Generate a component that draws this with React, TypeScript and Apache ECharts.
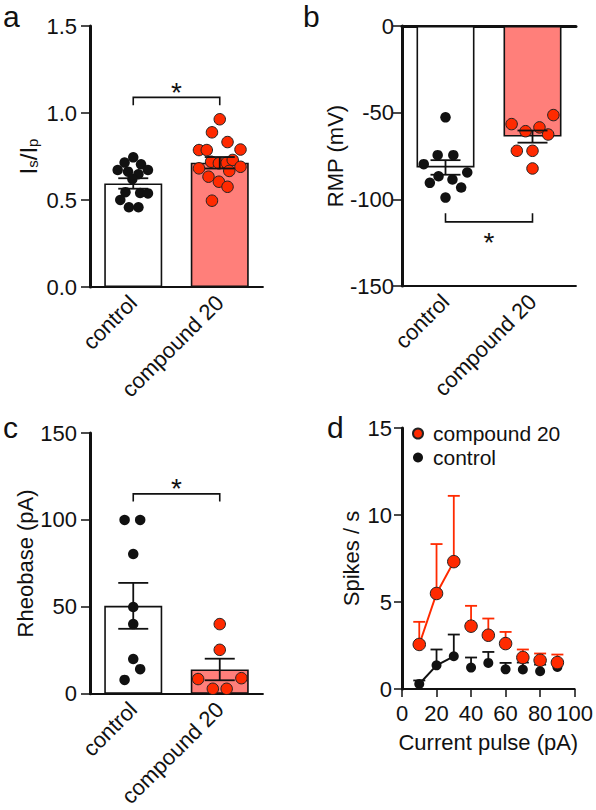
import React, { useEffect, useRef } from 'react';
import * as echarts from 'echarts';

const FONT = '"Liberation Sans", Arial, Helvetica, sans-serif';
const INK = '#111111';
const RED = '#ff2a00';
const SALMON = '#ff7f7a';

const categories = ['control', 'compound 20'];

// panel a: Is/Ip
const ratioMean = [0.595, 0.714];
const ratioSem = [0.03, 0.033];
const ratioControl = [0.745, 0.715, 0.705, 0.672, 0.672, 0.663, 0.648, 0.62, 0.545, 0.54, 0.538, 0.5, 0.458, 0.458];
const ratioControlJitter = [0, -0.1, 0.09, -0.18, 0.17, -0.06, 0.06, -0.01, -0.09, 0.08, 0.17, -0.15, -0.05, 0.06];
const ratioCompound = [0.964, 0.889, 0.833, 0.787, 0.787, 0.79, 0.72, 0.711, 0.714, 0.73, 0.682, 0.691, 0.667, 0.634, 0.605, 0.576, 0.496];
const ratioCompoundJitter = [0, -0.09, 0.09, -0.24, -0.15, 0.24, -0.1, -0.01, 0.08, 0.15, -0.24, 0.24, 0.11, -0.13, -0.01, 0.09, -0.09];
const ratioBracket = [0, 1, 1.09, 1.045, 1.16];

// panel b: RMP
const rmpMean = [-81.6, -63.8];
const rmpSem = [4.2, 3.5];
const rmpControl = [-52.7, -74.5, -74.5, -79.7, -86.7, -88.6, -84.5, -90.5, -93.2, -99];
const rmpControlJitter = [0, -0.09, 0.09, -0.25, -0.08, 0.08, 0.25, -0.18, 0.18, 0];
const rmpCompound = [-51.4, -56.6, -60.7, -58.5, -62.6, -72, -72, -82.2];
const rmpCompoundJitter = [0.24, -0.24, -0.08, 0.08, 0.18, -0.18, 0, 0];
const rmpBracket = [0, 1, -113, -108, -120.7];

// panel c: Rheobase
const rheoMean = [50.6, 14];
const rheoSem = [13.2, 6.2];
const rheoControl = [100, 100, 80.4, 49.9, 40.1, 20, 14.2, 8];
const rheoControlJitter = [-0.1, 0.08, 0, 0, 0, 0, 0.08, -0.1];
const rheoCompound = [40.1, 25.3, 8.5, 9, 2.9, 2.9];
const rheoCompoundJitter = [0, 0, -0.25, 0.25, -0.08, 0.08];
const rheoBracket = [0, 1, 115, 110.6, 122];

// panel d: spikes vs current
const currentSteps = [10, 20, 30, 40, 50, 60, 70, 80, 90];
const spikesCompound = [2.56, 5.49, 7.32, 3.61, 3.09, 2.61, 1.81, 1.65, 1.52];
const spikesCompoundSem = [1.3, 2.84, 3.78, 1.17, 0.96, 0.67, 0.46, 0.39, 0.46];
const spikesControl = [0.29, 1.36, 1.88, 1.23, 1.5, 1.13, 1.12, 1.02, 1.27];
const spikesControlSem = [0.2, 0.91, 1.25, 0.58, 0.63, 0.37, 0.4, 0.38, 0.28];
const fitPoints = 3;

function errRender(capHalf: number, color: string, lw: number, upOnly: boolean) {
  return (params: any, api: any) => {
    const x = api.value(0);
    const m = api.value(1);
    const e = api.value(2);
    const top = api.coord([x, m + e]);
    const bot = api.coord([x, upOnly ? m : m - e]);
    const st = { stroke: color, lineWidth: lw };
    const children: any[] = [
      { type: 'line', shape: { x1: top[0], y1: top[1], x2: bot[0], y2: bot[1] }, style: st },
      { type: 'line', shape: { x1: top[0] - capHalf, y1: top[1], x2: top[0] + capHalf, y2: top[1] }, style: st },
    ];
    if (!upOnly) {
      children.push({ type: 'line', shape: { x1: bot[0] - capHalf, y1: bot[1], x2: bot[0] + capHalf, y2: bot[1] }, style: st });
    }
    return { type: 'group', children };
  };
}

function bracketRender(params: any, api: any) {
  const x0 = api.value(0);
  const x1 = api.value(1);
  const yb = api.value(2);
  const ye = api.value(3);
  const ys = api.value(4);
  const p0 = api.coord([x0, ye]);
  const p1 = api.coord([x0, yb]);
  const p2 = api.coord([x1, yb]);
  const p3 = api.coord([x1, ye]);
  const ps = api.coord([(x0 + x1) / 2, ys]);
  return {
    type: 'group',
    children: [
      { type: 'polyline', shape: { points: [p0, p1, p2, p3] }, style: { stroke: INK, lineWidth: 1.6, fill: 'none' } },
      {
        type: 'text',
        style: {
          text: '*', x: ps[0], y: ps[1] + 7, textAlign: 'center', textVerticalAlign: 'middle',
          font: `28px ${FONT}`, fill: INK,
        },
      },
    ],
  };
}

const labelStyle = { color: INK, fontFamily: FONT };

function catAxis(gridIndex: number, extra: any = {}) {
  return {
    type: 'category', gridIndex, data: categories,
    axisLine: { onZero: false, lineStyle: { color: INK, width: 1.8 } },
    axisTick: { alignWithLabel: true, length: 9, lineStyle: { color: INK, width: 1.5 } },
    axisLabel: { ...labelStyle, rotate: 45, margin: 12, fontSize: 22 },
    ...extra,
  };
}

function hiddenX(gridIndex: number) {
  return { type: 'value', gridIndex, min: -0.5, max: 1.5, show: false };
}

function valAxis(gridIndex: number, min: number, max: number, interval: number, margin: number, name: any, nameGap: number, extra: any = {}) {
  return {
    type: 'value', gridIndex, min, max, interval,
    axisLine: { show: true, onZero: false, lineStyle: { color: INK, width: 3 } },
    axisTick: { show: true, length: 9, lineStyle: { color: INK, width: 1.5 } },
    splitLine: { show: false },
    axisLabel: { ...labelStyle, fontSize: 22, margin },
    name, nameLocation: 'middle', nameRotate: 90, nameGap,
    nameTextStyle: { ...labelStyle, fontSize: 22 },
    ...extra,
  };
}

function barPanel(prefix: string, xCat: number, xVal: number, yIdx: number, mean: number[], sem: number[],
  ctrl: number[], ctrlJ: number[], comp: number[], compJ: number[], bracket: number[]) {
  return [
    {
      name: prefix + ' bars', type: 'bar', xAxisIndex: xCat, yAxisIndex: yIdx, barWidth: 58, z: 1,
      data: mean.map((v, i) => ({ value: v, itemStyle: { color: i === 0 ? '#ffffff' : SALMON } })),
      itemStyle: { borderColor: INK, borderWidth: 1.6 },
      silent: true,
    },
    {
      name: prefix + ' ctrl dots', type: 'scatter', xAxisIndex: xVal, yAxisIndex: yIdx, z: 3,
      symbolSize: 10.5, itemStyle: { color: INK, opacity: 1 },
      data: ctrl.map((v, i) => [0 + ctrlJ[i], v]), silent: true,
    },
    {
      name: prefix + ' comp dots', type: 'scatter', xAxisIndex: xVal, yAxisIndex: yIdx, z: 3,
      symbolSize: 11.5, itemStyle: { color: RED, borderColor: '#222', borderWidth: 1, opacity: 1 },
      data: comp.map((v, i) => [1 + compJ[i], v]), silent: true,
    },
    {
      name: prefix + ' err', type: 'custom', xAxisIndex: xVal, yAxisIndex: yIdx, z: 4,
      renderItem: errRender(15, INK, 1.8, false),
      data: mean.map((m, i) => [i, m, sem[i]]), silent: true,
    },
    {
      name: prefix + ' bracket', type: 'custom', xAxisIndex: xVal, yAxisIndex: yIdx, z: 5,
      renderItem: bracketRender, data: [bracket], encode: { x: 0, y: 2 }, silent: true,
    },
  ];
}

export default function App() {
  const ref = useRef<HTMLDivElement>(null);
  useEffect(() => {
    if (!ref.current) return;
    const chart = echarts.init(ref.current, null, { renderer: 'svg' });
    const option: any = {
      animation: false,
      backgroundColor: '#ffffff',
      textStyle: { fontFamily: FONT },
      grid: [
        { left: 90, top: 26, width: 173, height: 261 },
        { left: 402, top: 26, width: 174, height: 260 },
        { left: 90, top: 433, width: 173, height: 261 },
        { left: 402, top: 428, width: 175, height: 261 },
      ],
      xAxis: [
        catAxis(0),
        hiddenX(0),
        catAxis(1),
        hiddenX(1),
        catAxis(1, {
          position: 'top',
          axisLine: { onZero: false, lineStyle: { color: INK, width: 3 } },
          axisTick: { show: false }, axisLabel: { show: false },
        }),
        catAxis(2),
        hiddenX(2),
        {
          type: 'value', gridIndex: 3, min: 0, max: 100, interval: 20,
          axisLine: { show: true, onZero: false, lineStyle: { color: INK, width: 2 } },
          axisTick: { show: true, length: 8, lineStyle: { color: INK, width: 1.5 } },
          splitLine: { show: false },
          axisLabel: { ...labelStyle, fontSize: 22, margin: 13 },
          name: 'Current pulse (pA)', nameLocation: 'middle', nameGap: 42,
          nameTextStyle: { ...labelStyle, fontSize: 22 },
        },
      ],
      yAxis: [
        valAxis(0, 0, 1.5, 0.5, 13, '{m|I}{s|s}{m|/I}{s|p}', 50, {
          axisLabel: { ...labelStyle, fontSize: 22, margin: 13, formatter: (v: number) => v.toFixed(1) },
          nameTextStyle: {
            ...labelStyle,
            rich: {
              m: { fontSize: 24, lineHeight: 24, verticalAlign: 'top', fontFamily: FONT, color: INK },
              s: { fontSize: 15, lineHeight: 15, verticalAlign: 'bottom', padding: [14, 0, 0, 0], fontFamily: FONT, color: INK },
            },
          },
        }),
        valAxis(1, -150, 0, 50, 8, 'RMP (mV)', 54),
        valAxis(2, 0, 150, 50, 13, 'Rheobase (pA)', 52),
        valAxis(3, 0, 15, 5, 10, 'Spikes / s', 40, { axisTick: { show: true, length: 8, lineStyle: { color: INK, width: 1.5 } } }),
      ],
      legend: {
        data: [{ name: 'compound 20' }, { name: 'control' }],
        orient: 'vertical', left: 412, top: 423, padding: 0,
        itemWidth: 20, itemHeight: 10, itemGap: 3, icon: 'circle', selectedMode: false,
        textStyle: { fontSize: 21, color: INK, fontFamily: FONT },
      },
      graphic: [
        { type: 'text', x: 3, y: 1, style: { text: 'a', font: `30px ${FONT}`, fill: INK, textVerticalAlign: 'top' } },
        { type: 'text', x: 303, y: 1, style: { text: 'b', font: `30px ${FONT}`, fill: INK, textVerticalAlign: 'top' } },
        { type: 'text', x: 3, y: 412, style: { text: 'c', font: `30px ${FONT}`, fill: INK, textVerticalAlign: 'top' } },
        { type: 'text', x: 327, y: 412, style: { text: 'd', font: `30px ${FONT}`, fill: INK, textVerticalAlign: 'top' } },
      ],
      series: [
        ...barPanel('a', 0, 1, 0, ratioMean, ratioSem, ratioControl, ratioControlJitter, ratioCompound, ratioCompoundJitter, ratioBracket),
        ...barPanel('b', 2, 3, 1, rmpMean, rmpSem, rmpControl, rmpControlJitter, rmpCompound, rmpCompoundJitter, rmpBracket),
        ...barPanel('c', 5, 6, 2, rheoMean, rheoSem, rheoControl, rheoControlJitter, rheoCompound, rheoCompoundJitter, rheoBracket),
        {
          name: 'control err', type: 'custom', xAxisIndex: 7, yAxisIndex: 3, z: 2,
          renderItem: errRender(6, INK, 1.8, true),
          data: currentSteps.map((x, i) => [x, spikesControl[i], spikesControlSem[i]]), silent: true,
        },
        {
          name: 'control fit', type: 'line', xAxisIndex: 7, yAxisIndex: 3, z: 2, showSymbol: false,
          lineStyle: { color: INK, width: 2 }, itemStyle: { color: INK },
          data: currentSteps.slice(0, fitPoints).map((x, i) => [x, spikesControl[i]]), silent: true,
        },
        {
          name: 'control', type: 'scatter', xAxisIndex: 7, yAxisIndex: 3, z: 3, symbolSize: 10,
          itemStyle: { color: INK, opacity: 1 },
          data: currentSteps.map((x, i) => [x, spikesControl[i]]), silent: true,
        },
        {
          name: 'compound 20 err', type: 'custom', xAxisIndex: 7, yAxisIndex: 3, z: 4,
          renderItem: errRender(6, RED, 1.8, true),
          data: currentSteps.map((x, i) => [x, spikesCompound[i], spikesCompoundSem[i]]), silent: true,
        },
        {
          name: 'compound 20 fit', type: 'line', xAxisIndex: 7, yAxisIndex: 3, z: 4, showSymbol: false,
          lineStyle: { color: RED, width: 2 }, itemStyle: { color: RED },
          data: currentSteps.slice(0, fitPoints).map((x, i) => [x, spikesCompound[i]]), silent: true,
        },
        {
          name: 'compound 20', type: 'scatter', xAxisIndex: 7, yAxisIndex: 3, z: 5, symbolSize: 12.5,
          itemStyle: { color: RED, borderColor: '#222', borderWidth: 1, opacity: 1 },
          data: currentSteps.map((x, i) => [x, spikesCompound[i]]), silent: true,
        },
      ],
    };
    chart.setOption(option);
    return () => chart.dispose();
  }, []);
  return <div ref={ref} style={{ position: 'fixed', left: 0, top: 0, width: 596, height: 810, background: '#fff' }} />;
}
